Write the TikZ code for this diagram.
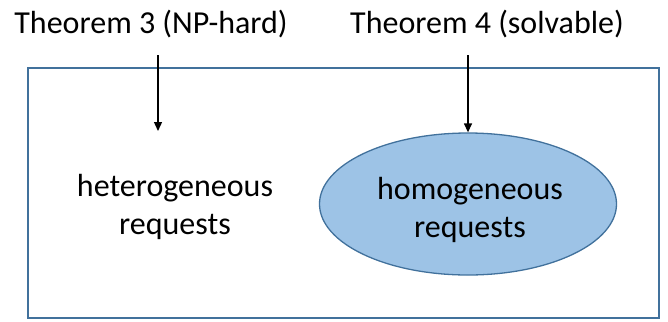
\documentclass[tikz,border=0pt]{standalone}
\usepackage{fontspec}
\setmainfont{Carlito}
\usetikzlibrary{shapes.geometric,arrows.meta}
\definecolor{bord}{HTML}{41719C}
\definecolor{fillb}{HTML}{9DC3E6}
\begin{document}
\begin{tikzpicture}[x=1bp,y=-1bp,
  lbl/.style={font=\fontsize{32bp}{38bp}\selectfont, align=center, inner sep=0pt},
  arr/.style={draw=black, line width=1.3bp, -{Triangle[length=9bp,width=8bp]}}]
\useasboundingbox (0,0) rectangle (668,321);
\draw[bord, line width=2.5bp] (28,68) rectangle (659,318);
\node[lbl] (t3) at (151,24) {Theorem 3 (NP-hard)};
\node[lbl] (t4) at (487,24) {Theorem 4 (solvable)};
\node[lbl] (het) at (175,207) {heterogeneous\\requests};
\node[ellipse, draw=bord, fill=fillb, line width=1.3bp, minimum width=297bp, minimum height=142bp, inner sep=0pt] (hom) at (468,204) {};
\node[lbl] (homt) at (470,210) {homogeneous\\requests};
\coordinate (s3) at (158,55);
\coordinate (e3) at (158,131);
\coordinate (s4) at (468,55);
\draw[arr] (s3) -- (e3);
\draw[arr] (s4) -- (hom.north);
\end{tikzpicture}
\end{document}
